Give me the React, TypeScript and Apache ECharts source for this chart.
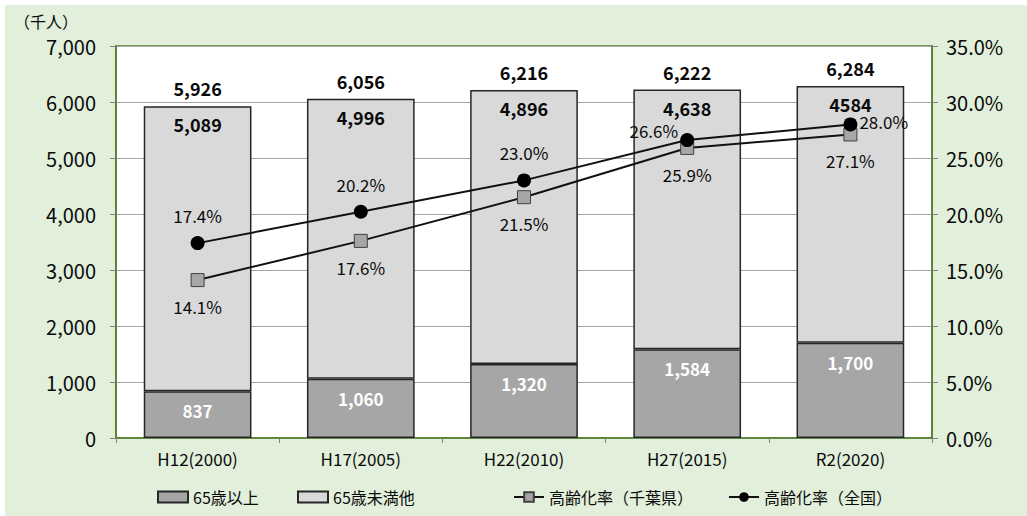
import React, { useEffect, useRef } from "react";
import * as echarts from "echarts";

const categories = ["H12(2000)", "H17(2005)", "H22(2010)", "H27(2015)", "R2(2020)"];
const over65 = [837, 1060, 1320, 1584, 1700];
const under65 = [5089, 4996, 4896, 4638, 4584];
const under65Labels = ["5,089", "4,996", "4,896", "4,638", "4584"];
const totals = [5926, 6056, 6216, 6222, 6284];
const rateChiba = [14.1, 17.6, 21.5, 25.9, 27.1];
const rateJapan = [17.4, 20.2, 23.0, 26.6, 28.0];

const FONT = "'Noto Sans CJK JP', 'Noto Sans', sans-serif";
const GREEN_BG = "#e2efda";
const GREEN_LINE = "#4f7f2a";
const TXT = "#0a0a0a";

export default function App() {
  const ref = useRef<HTMLDivElement>(null);
  useEffect(() => {
    if (!ref.current) return;
    const chart = echarts.init(ref.current, null, { renderer: "svg" });
    const fmt = (v: number) => v.toLocaleString("en-US");
    const japanLabel = (i: number) => {
      if (i === 3) return { position: "left", distance: 2, offset: [0, -10] };
      if (i === 4) return { position: "right", distance: 2, offset: [0, -3] };
      return { position: "top", distance: 12 };
    };
    const legendText = { fontSize: 16, color: TXT, fontFamily: FONT };
    chart.setOption({
      animation: false,
      textStyle: { fontFamily: FONT },
      graphic: [
        { type: "rect", z: -10, shape: { x: 5, y: 5, width: 1030, height: 520 }, style: { fill: GREEN_BG } },
        { type: "text", left: 14, top: 13, style: { text: "（千人）", font: `16px ${FONT}`, fill: TXT } },
      ],
      grid: { left: 116, right: 95, top: 46, bottom: 78, show: true, backgroundColor: "#ffffff", borderColor: GREEN_LINE, borderWidth: 1.5 },
      legend: [
        { data: [{ name: "65歳以上", icon: "rect" }], left: 152, top: 484, itemWidth: 30, itemHeight: 11, textStyle: legendText },
        { data: [{ name: "65歳未満他", icon: "rect" }], left: 292, top: 484, itemWidth: 30, itemHeight: 11, textStyle: legendText },
        { data: ["高齢化率（千葉県）"], left: 508, top: 484, itemWidth: 30, itemHeight: 12, textStyle: legendText },
        { data: ["高齢化率（全国）"], left: 723, top: 484, itemWidth: 30, itemHeight: 12, textStyle: legendText },
      ],
      xAxis: {
        type: "category",
        data: categories,
        axisLine: { lineStyle: { color: GREEN_LINE, width: 1.5 } },
        axisTick: { show: true, length: 5, lineStyle: { color: "#808080" } },
        axisLabel: { fontSize: 17, color: TXT, margin: 12, fontFamily: FONT },
      },
      yAxis: [
        {
          type: "value",
          min: 0,
          max: 7000,
          interval: 1000,
          axisLine: { show: true, lineStyle: { color: GREEN_LINE, width: 1.5 } },
          axisTick: { show: true, length: 6, lineStyle: { color: "#808080" } },
          splitLine: { lineStyle: { color: "#a6a6a6", width: 1 } },
          axisLabel: { fontSize: 20, color: TXT, margin: 20, fontFamily: FONT, formatter: (v: number) => fmt(v) },
        },
        {
          type: "value",
          min: 0,
          max: 35,
          interval: 5,
          axisLine: { show: true, lineStyle: { color: GREEN_LINE, width: 1.5 } },
          axisTick: { show: true, length: 6, lineStyle: { color: "#808080" } },
          splitLine: { show: false },
          axisLabel: { fontSize: 20, color: TXT, margin: 14, fontFamily: FONT, formatter: (v: number) => v.toFixed(1) + "%" },
        },
      ],
      series: [
        {
          name: "65歳以上",
          type: "bar",
          stack: "pop",
          barWidth: "66%",
          data: over65,
          itemStyle: { color: "#a6a6a6", borderColor: "#262626", borderWidth: 1.5 },
          label: { show: true, position: "insideTop", distance: 11, color: "#ffffff", fontSize: 17, fontWeight: 700, fontFamily: FONT, formatter: (p: any) => fmt(p.value) },
        },
        {
          name: "65歳未満他",
          type: "bar",
          stack: "pop",
          barWidth: "66%",
          data: under65,
          itemStyle: { color: "#d9d9d9", borderColor: "#262626", borderWidth: 1.5 },
          label: { show: true, position: "insideTop", distance: 9, color: TXT, fontSize: 18, fontWeight: 700, fontFamily: FONT, formatter: (p: any) => under65Labels[p.dataIndex] },
        },
        {
          name: "total",
          type: "scatter",
          data: totals,
          symbolSize: 0,
          silent: true,
          itemStyle: { opacity: 1 },
          label: { show: true, position: "top", distance: 9, color: TXT, fontSize: 18, fontWeight: 700, fontFamily: FONT, formatter: (p: any) => fmt(p.value) },
        },
        {
          name: "高齢化率（千葉県）",
          type: "line",
          yAxisIndex: 1,
          data: rateChiba.map((v) => ({ value: v })),
          symbol: "rect",
          symbolSize: 13,
          lineStyle: { color: "#111111", width: 2 },
          itemStyle: { color: "#a6a6a6", borderColor: "#404040", borderWidth: 1 },
          label: { show: true, position: "bottom", distance: 11, color: TXT, fontSize: 17, fontFamily: FONT, formatter: (p: any) => p.value.toFixed(1) + "%" },
          z: 5,
        },
        {
          name: "高齢化率（全国）",
          type: "line",
          yAxisIndex: 1,
          data: rateJapan.map((v, i) => ({ value: v, label: japanLabel(i) })),
          symbol: "circle",
          symbolSize: 14,
          lineStyle: { color: "#111111", width: 2 },
          itemStyle: { color: "#000000" },
          label: { show: true, color: TXT, fontSize: 17, fontFamily: FONT, formatter: (p: any) => p.value.toFixed(1) + "%" },
          z: 6,
        },
      ],
    });
    return () => chart.dispose();
  }, []);
  return (
    <div style={{ position: "fixed", left: 0, top: 0, width: 1027, height: 516, background: "#ffffff" }}>
      <div ref={ref} style={{ width: 1027, height: 516 }} />
    </div>
  );
}
